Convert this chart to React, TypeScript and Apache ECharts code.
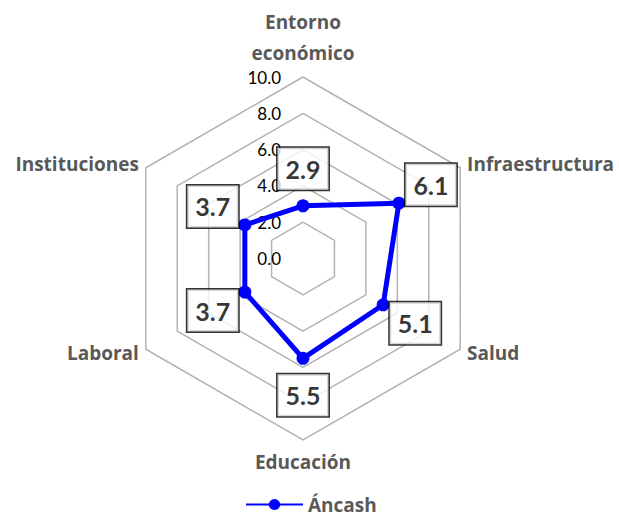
import React, { useEffect, useRef } from "react";
import * as echarts from "echarts";

// Data in the reference's clockwise order, starting at the top
const categories = ["Entorno\neconómico", "Infraestructura", "Salud", "Educación", "Laboral", "Instituciones"];
const values = [2.9, 6.1, 5.1, 5.5, 3.7, 3.7];
const seriesName = "Áncash";
const tickValues = [0, 2, 4, 6, 8, 10];

const FONT = "'Open Sans', Lato, sans-serif";
const LABEL_FONT = "Lato, 'Open Sans', sans-serif";

export default function App() {
  const ref = useRef<HTMLDivElement>(null);
  useEffect(() => {
    document.body.style.margin = "0";
    if (!ref.current) return;
    const chart = echarts.init(ref.current, null, { renderer: "svg" });

    // ECharts radar runs counter-clockwise: keep the first item, reverse the rest
    const order = [0, ...categories.slice(1).map((_, i) => categories.length - 1 - i)];
    const ccwNames = order.map((i) => categories[i]);
    const ccwValues = order.map((i) => values[i]);
    const n = ccwNames.length;
    const center = [303, 258.5];
    const radius = 181.5;
    const labelDist = 37;

    const indicator = ccwNames.map((name, k) => {
      const ind: any = { name, min: tickValues[0], max: tickValues[tickValues.length - 1] };
      if (k === 0) {
        ind.axisLabel = {
          show: true,
          color: "#000",
          fontSize: 17,
          fontFamily: LABEL_FONT,
          margin: 22,
          formatter: (v: number) => Number(v).toFixed(1),
        };
        ind.nameGap = 6;
      }
      if (k === n / 2) ind.nameGap = 6;
      return ind;
    });

    chart.setOption({
      animation: false,
      legend: {
        data: [seriesName],
        top: 490,
        left: 240,
        itemWidth: 57,
        itemHeight: 14,
        itemGap: 10,
        textStyle: { color: "#595959", fontSize: 19, fontWeight: "bold", fontFamily: FONT, lineHeight: 18 },
      },
      radar: {
        center,
        radius,
        startAngle: 90,
        shape: "polygon",
        splitNumber: tickValues.length - 1,
        indicator,
        axisNameGap: 8,
        axisName: {
          color: "#595959",
          fontSize: 19,
          fontWeight: "bold",
          fontFamily: FONT,
          lineHeight: 31,
        },
        axisLine: { show: false },
        axisTick: { show: false },
        axisLabel: { show: false },
        splitArea: { show: false },
        splitLine: { lineStyle: { color: "#b3b3b3", width: 1.5 } },
      },
      polar: { center, radius },
      angleAxis: {
        type: "category",
        data: ccwNames,
        boundaryGap: false,
        startAngle: 90,
        clockwise: false,
        axisLine: { show: false },
        axisTick: { show: false },
        axisLabel: { show: false },
        splitLine: { show: false },
      },
      radiusAxis: {
        type: "value",
        min: tickValues[0],
        max: tickValues[tickValues.length - 1],
        axisLine: { show: false },
        axisTick: { show: false },
        axisLabel: { show: false },
        splitLine: { show: false },
      },
      series: [
        {
          name: seriesName,
          type: "line",
          coordinateSystem: "polar",
          data: [],
          symbol: "circle",
          symbolSize: 14,
          itemStyle: { color: "#0000ff" },
          lineStyle: { color: "#0000ff", width: 5 },
        },
        {
          name: "radar",
          type: "radar",
          symbol: "circle",
          symbolSize: 13,
          itemStyle: { color: "#0000ff" },
          lineStyle: { color: "#0000ff", width: 5 },
          data: [{ name: seriesName, value: ccwValues }],
        },
        {
          name: "etiquetas",
          type: "scatter",
          coordinateSystem: "polar",
          symbolSize: 1,
          z: 10,
          itemStyle: { color: "rgba(0,0,0,0)" },
          label: {
            show: true,
            position: "inside",
            formatter: (p: any) => Number(p.value[0]).toFixed(1),
            color: "#000",
            fontSize: 25,
            fontWeight: "bold",
            fontFamily: LABEL_FONT,
            lineHeight: 28,
            backgroundColor: "#fff",
            borderColor: "#000",
            borderWidth: 1.5,
            padding: [7, 8],
          },
          data: ccwValues.map((v, k) => {
            const a = (k * 2 * Math.PI) / n;
            return {
              value: [v, k],
              label: { offset: [-labelDist * Math.sin(a), -labelDist * Math.cos(a)] },
            };
          }),
        },
      ],
    });
    return () => chart.dispose();
  }, []);
  return <div ref={ref} style={{ width: 619, height: 518 }} />;
}
